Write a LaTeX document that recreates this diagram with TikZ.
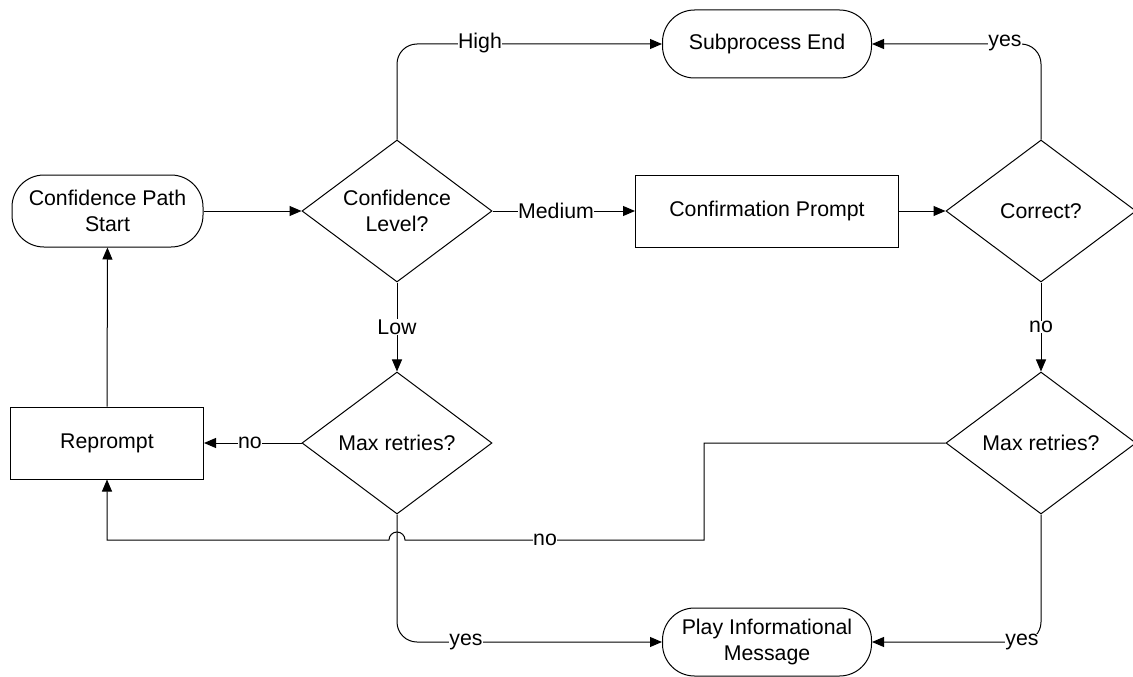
\documentclass[tikz,border=0pt]{standalone}
\usepackage{fontspec}
\setmainfont{Liberation Sans}
\usetikzlibrary{shapes.geometric,arrows.meta}
\begin{document}
\begin{tikzpicture}[x=1pt,y=-1pt,
  every node/.style={font=\fontsize{21.3}{26}\selectfont, align=center},
  base/.style={draw, line width=1pt, inner sep=0pt},
  term/.style={base, rectangle, rounded corners=32pt, minimum width=209pt, minimum height=68pt},
  startbox/.style={base, rectangle, rounded corners=32pt, minimum width=191pt, minimum height=72pt},
  proc/.style={base, rectangle, minimum height=72pt},
  dec/.style={base, diamond, aspect=1.338, minimum width=190pt, minimum height=142pt},
  conn/.style={line width=1pt, -{Triangle[length=12pt,width=10pt]}},
  lbl/.style={fill=white, inner sep=0.3pt}
]
\useasboundingbox (0,0) rectangle (1133,677);

\node[startbox] (start) at (107.5,211) {Confidence Path\\Start};
\node[dec] (cl) at (397,211) {Confidence\\Level?};
\node[proc, minimum width=263pt] (cp) at (767,211) {Confirmation Prompt};
\node[dec] (cor) at (1041,211) {Correct?};
\node[term] (sub) at (767,44) {Subprocess End};
\node[dec] (mr1) at (397,443) {Max retries?};
\node[dec] (mr2) at (1041,443) {Max retries?};
\node[proc, minimum width=193pt] (rep) at (107,443) {Reprompt};
\node[term] (play) at (767,642) {Play Informational\\Message};

\coordinate (c1) at (704,443);
\coordinate (c2) at (704,540);
\coordinate (c3) at (405,540);
\coordinate (c4) at (107,540);

\draw[conn] (start) -- (cl);
\draw[conn] (cl) -- (cp);
\draw[conn] (cp) -- (cor);
\draw[conn, rounded corners=20pt] (cl.north) |- (sub.west);
\draw[conn, rounded corners=20pt] (cor.north) |- (sub.east);
\draw[conn] (cl) -- (mr1);
\draw[conn] (cor) -- (mr2);
\draw[conn] (mr1) -- (rep);
\draw[conn] (rep) -- (start);
\draw[conn, rounded corners=20pt] (mr1.south) |- (play.west);
\draw[conn, rounded corners=20pt] (mr2.south) |- (play.east);
\draw[conn] (mr2.west) -- (c1) -- (c2) -- (c3) arc[start angle=0, end angle=180, radius=8pt] -- (c4) -- (rep.south);

\node[lbl] (lh) at (480,43) {High};
\node[lbl] (lm) at (556,211) {Medium};
\node[lbl] (ll) at (397,327) {Low};
\node[lbl] (ly1) at (1005,43) {yes};
\node[lbl] (ln1) at (1041,327) {no};
\node[lbl] (ln2) at (250,443) {no};
\node[lbl] (ln3) at (545,540) {no};
\node[lbl] (ly2) at (466,642) {yes};
\node[lbl] (ly3) at (1022,642) {yes};
\end{tikzpicture}
\end{document}
